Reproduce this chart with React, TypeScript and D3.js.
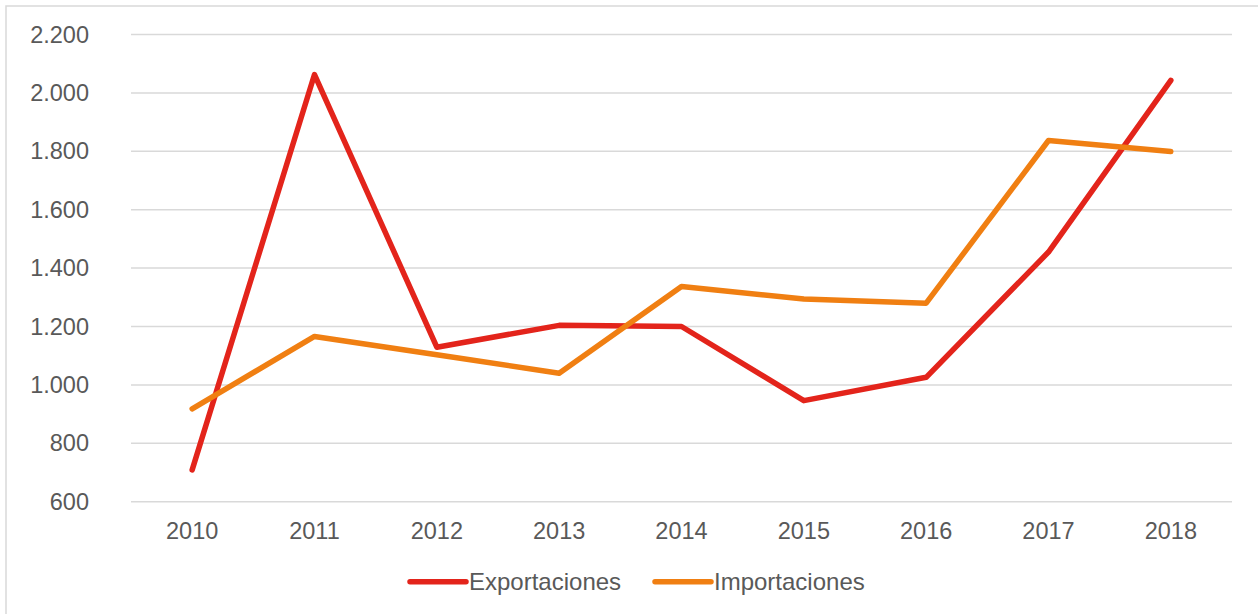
import React from "react";
import * as d3 from "d3";

const WIDTH = 1258;
const HEIGHT = 614;
const MARGIN = { top: 34.5, right: 26, bottom: 112.3, left: 131 };

const years = ["2010", "2011", "2012", "2013", "2014", "2015", "2016", "2017", "2018"];
const exportaciones = [709, 2063, 1129, 1204, 1200, 946, 1026, 1455, 2043];
const importaciones = [918, 1166, 1103, 1040, 1337, 1294, 1280, 1837, 1799];
const yTicks = [600, 800, 1000, 1200, 1400, 1600, 1800, 2000, 2200];

const RED = "#E3241B";
const ORANGE = "#F07F12";
const TEXT = "#595959";
const GRID = "#d9d9d9";
const FONT = "'Liberation Sans', Arial, sans-serif";

const series = [
  { name: "Exportaciones", values: exportaciones, color: RED },
  { name: "Importaciones", values: importaciones, color: ORANGE },
];

// thousands separator is a dot (es locale)
const fmt = (v: number) => d3.format(",")(v).replace(/,/g, ".");

export default function App() {
  const x0 = MARGIN.left;
  const x1 = WIDTH - MARGIN.right;
  const yBottom = HEIGHT - MARGIN.bottom;

  const xScale = d3.scalePoint<string>().domain(years).range([x0, x1]).padding(0.5);
  const yScale = d3.scaleLinear().domain([600, 2200]).range([yBottom, MARGIN.top]);

  const line = d3
    .line<number>()
    .x((_, i) => xScale(years[i]) as number)
    .y((d) => yScale(d));

  // legend layout
  const legendY = 581.7;
  const legendItems = [
    { ...series[0], lx: 410 },
    { ...series[1], lx: 655 },
  ];

  return (
    <svg
      width={WIDTH}
      height={HEIGHT}
      style={{ position: "absolute", left: 0, top: 0, background: "#fff" }}
      fontFamily={FONT}
    >
      {/* outer frame */}
      <rect x={6} y={6} width={WIDTH} height={HEIGHT} fill="none" stroke={GRID} strokeWidth={1.5} />

      {/* grid + y labels */}
      {yTicks.map((t) => (
        <g key={t}>
          <line x1={x0} x2={x1} y1={yScale(t)} y2={yScale(t)} stroke={GRID} strokeWidth={1.5} />
          <text
            x={89}
            y={yScale(t)}
            textAnchor="end"
            dominantBaseline="central"
            fontSize={23.5}
            fill={TEXT}
          >
            {fmt(t)}
          </text>
        </g>
      ))}

      {/* x labels */}
      {years.map((yr) => (
        <text
          key={yr}
          x={xScale(yr)}
          y={530.5}
          textAnchor="middle"
          dominantBaseline="central"
          fontSize={23.5}
          fill={TEXT}
        >
          {yr}
        </text>
      ))}

      {/* lines */}
      {series.map((s) => (
        <path
          key={s.name}
          d={line(s.values) || ""}
          fill="none"
          stroke={s.color}
          strokeWidth={5.5}
          strokeLinecap="round"
          strokeLinejoin="round"
        />
      ))}

      {/* legend */}
      {legendItems.map((s) => (
        <g key={s.name}>
          <line
            x1={s.lx}
            x2={s.lx + 56}
            y1={legendY}
            y2={legendY}
            stroke={s.color}
            strokeWidth={5.5}
            strokeLinecap="round"
          />
          <text x={s.lx + 59} y={legendY} dominantBaseline="central" fontSize={24} fill={TEXT}>
            {s.name}
          </text>
        </g>
      ))}
    </svg>
  );
}
